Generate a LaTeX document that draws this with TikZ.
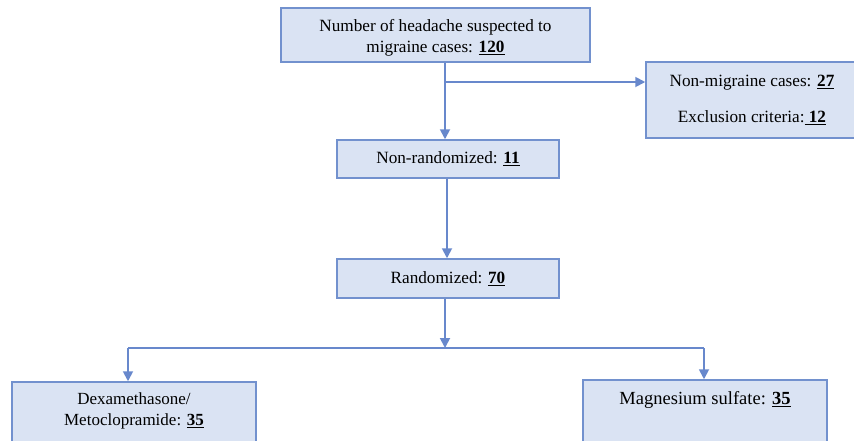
\documentclass[tikz,border=0pt]{standalone}
\usepackage{fontspec}
\setmainfont{Liberation Serif}
\usetikzlibrary{arrows.meta,calc}
\definecolor{boxfill}{RGB}{218,227,243}
\definecolor{boxdraw}{RGB}{114,145,206}
\definecolor{arrowc}{RGB}{104,136,204}
\newcommand{\num}[1]{\textbf{\underline{#1}}}
\tikzset{
  box/.style={draw=boxdraw, fill=boxfill, line width=1.5pt, rectangle, inner sep=0pt, align=center, font=\fontsize{17.2}{21}\selectfont},
  txt/.style={align=center, inner sep=0pt, font=\fontsize{17.2}{21}\selectfont},
  conn/.style={draw=arrowc, line width=1.8pt},
  arr/.style={conn, -{Triangle[width=10pt,length=10pt]}}
}
\begin{document}
\begin{tikzpicture}[x=1pt,y=-1pt]
\useasboundingbox (0,0) rectangle (854,440);
\begin{scope}
\clip (0,0) rectangle (854,440);
\node[box, minimum width=309pt, minimum height=54pt] (top) at (435.5,35) {};
\node[txt] (topt) at (435.5,38) {Number of headache suspected to\\migraine cases: \num{120}};
\node[box, minimum width=212pt, minimum height=76pt] (excl) at (752,100) {Non-migraine cases: \num{27}\\[15pt]Exclusion criteria:\num{ 12}};
\node[box, minimum width=222pt, minimum height=38pt] (nonr) at (448,159) {Non-randomized: \num{11}};
\node[box, minimum width=222pt, minimum height=39pt] (rand) at (448,278.5) {Randomized: \num{70}};
\node[box, minimum width=244pt, minimum height=70pt] (dex) at (134,417) {};
\node[txt, font=\fontsize{17}{21.5}\selectfont] (dext) at (134,411) {Dexamethasone/\\Metoclopramide: \num{35}};
\node[box, minimum width=244pt, minimum height=70pt] (mag) at (705,415) {};
\node[txt, font=\fontsize{18.5}{22}\selectfont] (magt) at (705,400) {Magnesium sulfate: \num{35}};
\end{scope}
\coordinate (b1) at (445,82);
\coordinate (b2) at (445,348);
\draw[arr] (445,0 |- top.south) -- (445,0 |- nonr.north);
\draw[arr] (b1) -- (b1 -| excl.west);
\draw[arr] (447,0 |- nonr.south) -- (447,0 |- rand.north);
\draw[arr] (445,0 |- rand.south) -- (b2);
\draw[conn] (128,348) -- (704,348);
\draw[arr] (128,348) -- (128,0 |- dex.north);
\draw[arr] (704,348) -- (704,0 |- mag.north);
\end{tikzpicture}
\end{document}
